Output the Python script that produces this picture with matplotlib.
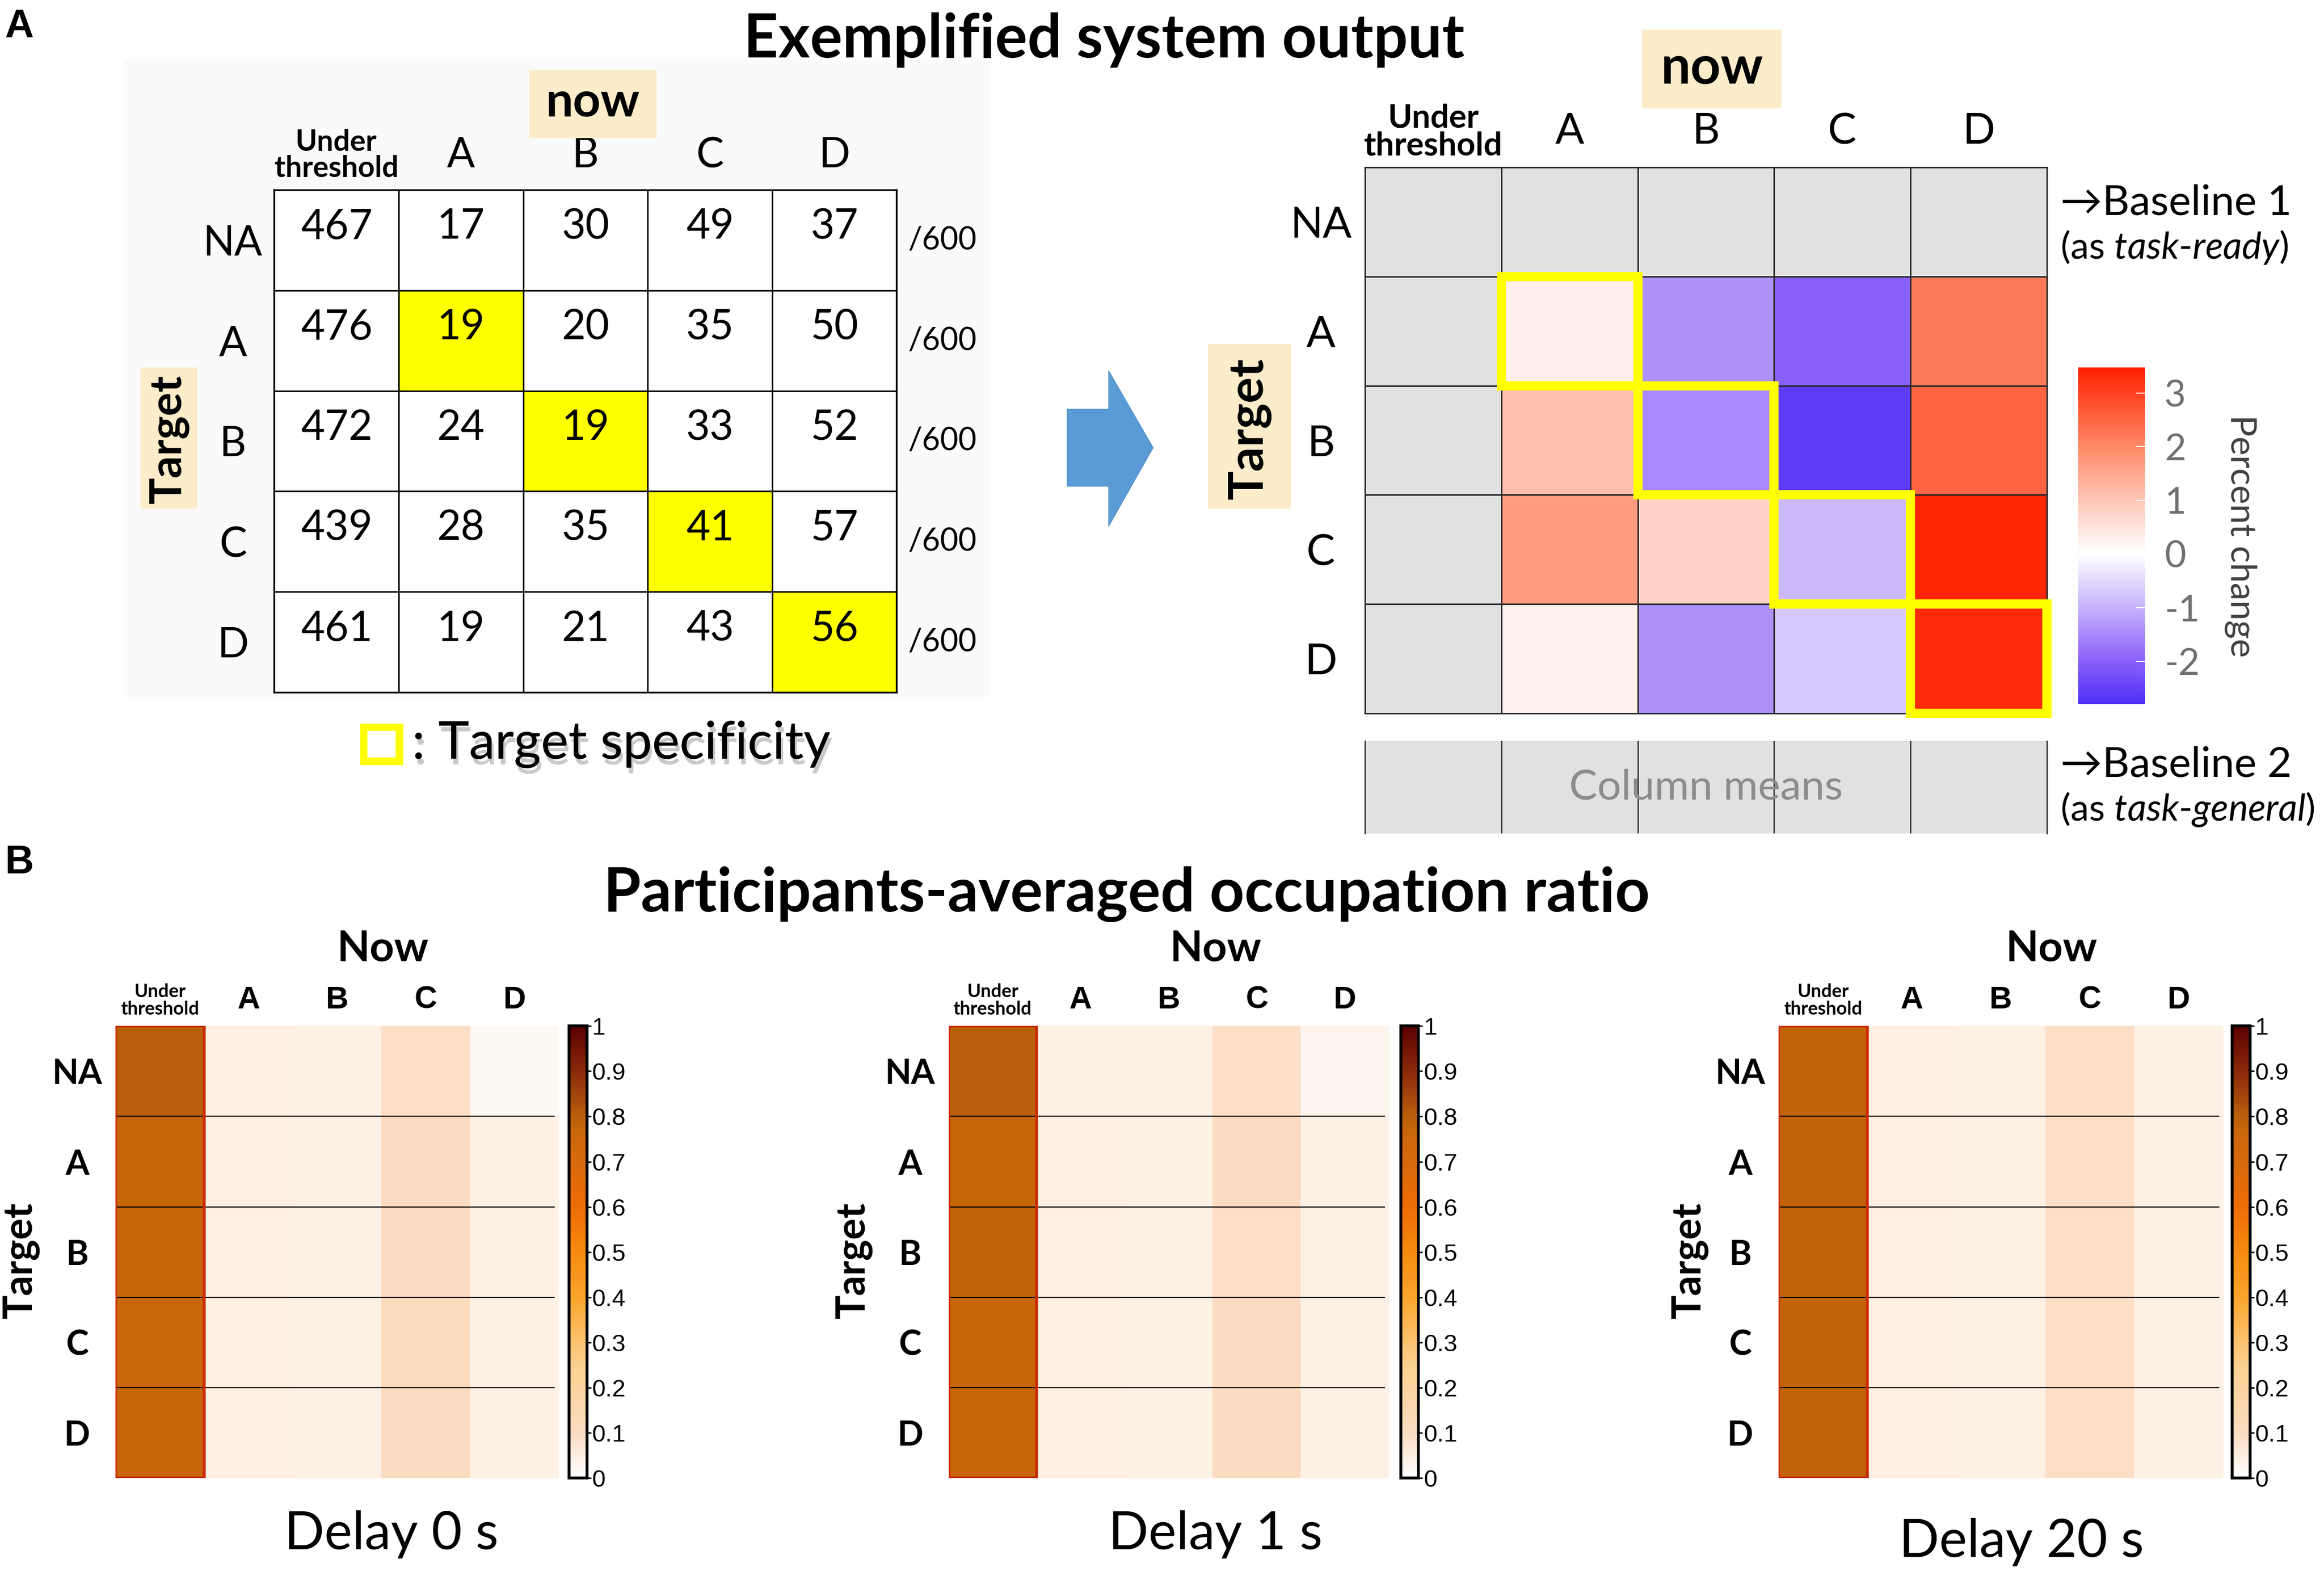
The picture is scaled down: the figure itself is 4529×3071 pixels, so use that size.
import numpy as np
import matplotlib
matplotlib.use('Agg')
import matplotlib.pyplot as plt
from matplotlib.colors import LinearSegmentedColormap, ListedColormap, Normalize
from matplotlib.patches import Rectangle, Polygon
import matplotlib.patheffects as pe

plt.rcParams['font.family'] = ['Lato', 'DejaVu Sans']
plt.rcParams['mathtext.fontset'] = 'custom'
plt.rcParams['mathtext.rm'] = 'Lato'
plt.rcParams['mathtext.it'] = 'Lato:italic'
plt.rcParams['axes.unicode_minus'] = False

# ---------------- data ----------------
col_labels = ['Under\nthreshold', 'A', 'B', 'C', 'D']
row_labels = ['NA', 'A', 'B', 'C', 'D']
trial_total = 600
example_counts = [
    [467, 17, 30, 49, 37],
    [476, 19, 20, 35, 50],
    [472, 24, 19, 33, 52],
    [439, 28, 35, 41, 57],
    [461, 19, 21, 43, 56],
]
nan = np.nan
percent_change = [
    [nan, nan, nan, nan, nan],
    [nan, 0.3, -1.4, -2.0, 2.2],
    [nan, 1.1, -1.5, -2.6, 2.5],
    [nan, 1.7, 0.8, -0.9, 3.4],
    [nan, 0.25, -1.4, -0.7, 3.3],
]
pc_ticks = [-2, -1, 0, 1, 2, 3]
pc_range = (-2.8, 3.47)

delay_titles = ['Delay 0 s', 'Delay 1 s', 'Delay 20 s']
occ_delay0 = [
    [0.80, 0.05, 0.04, 0.09, 0.02],
    [0.77, 0.05, 0.04, 0.10, 0.04],
    [0.77, 0.05, 0.04, 0.10, 0.04],
    [0.76, 0.05, 0.04, 0.11, 0.04],
    [0.77, 0.05, 0.04, 0.10, 0.04],
]
occ_delay1 = [
    [0.80, 0.04, 0.04, 0.09, 0.03],
    [0.77, 0.05, 0.04, 0.10, 0.04],
    [0.78, 0.05, 0.04, 0.09, 0.04],
    [0.77, 0.05, 0.04, 0.10, 0.04],
    [0.77, 0.05, 0.04, 0.10, 0.04],
]
occ_delay20 = [
    [0.78, 0.05, 0.04, 0.09, 0.04],
    [0.78, 0.05, 0.04, 0.09, 0.04],
    [0.78, 0.05, 0.04, 0.09, 0.04],
    [0.78, 0.05, 0.04, 0.09, 0.04],
    [0.78, 0.05, 0.04, 0.09, 0.04],
]
occ_ticks = [0, 0.1, 0.2, 0.3, 0.4, 0.5, 0.6, 0.7, 0.8, 0.9, 1]
occ_tick_labels = ['0', '0.1', '0.2', '0.3', '0.4', '0.5', '0.6', '0.7', '0.8', '0.9', '1']

# ---------------- layout helpers ----------------
W, H = 1568.0, 1063.0
fig = plt.figure(figsize=(45.29, 30.71), dpi=100)


def R(x0, y0, x1, y1):
    return [x0 / W, 1 - y1 / H, (x1 - x0) / W, (y1 - y0) / H]


def F(x, y):
    return (x / W, 1 - y / H)


def ftext(x, y, s, **kw):
    return fig.text(*F(x, y), s, **kw)


def fbox(x0, y0, x1, y1, color, z=0):
    fig.patches.append(Rectangle(F(x0, y1), (x1 - x0) / W, (y1 - y0) / H,
                                 transform=fig.transFigure, facecolor=color,
                                 edgecolor='none', zorder=z))


BEIGE = '#fcecca'

# ---------------- panel A ----------------
ftext(13, 18, 'A', fontsize=56, fontweight='bold', family='Liberation Sans', ha='center', va='center')
ftext(745, 27, 'Exemplified system output', fontsize=85, fontweight='bold', ha='center', va='center')

# light background behind example table
fbox(84, 40, 668, 470, '#fafafa', z=-1)
fbox(357, 47, 443, 93, BEIGE)
ftext(400, 69, 'now', fontsize=68, fontweight='bold', ha='center', va='center')
fbox(95, 248, 133, 343, BEIGE)
ftext(114, 296, 'Target', fontsize=62, fontweight='bold', ha='center', va='center', rotation=90)

ax1 = fig.add_axes(R(185, 128, 605, 467))
counts = np.array(example_counts)
nr, nc = counts.shape
highlight = np.array([[1 if row_labels[i] == col_labels[j] else 0 for j in range(nc)] for i in range(nr)])
ax1.pcolormesh(np.arange(nc + 1), np.arange(nr + 1), highlight,
               cmap=ListedColormap(['white', '#ffff00']), vmin=0, vmax=1,
               edgecolors='black', linewidth=2.0)
ax1.set_xlim(0, nc)
ax1.set_ylim(nr, 0)
for i in range(nr):
    for j in range(nc):
        ax1.text(j + 0.5, i + 0.37, str(counts[i, j]), ha='center', va='center', fontsize=58)
    ax1.text(nc + 0.37, i + 0.5, '/%d' % trial_total, ha='center', va='center', fontsize=44, clip_on=False)
ax1.xaxis.tick_top()
ax1.set_xticks(np.arange(nc) + 0.5)
ax1.set_xticklabels(col_labels)
ax1.set_yticks(np.arange(nr) + 0.5)
ax1.set_yticklabels(row_labels)
ax1.tick_params(length=0, labelsize=58)
ax1.tick_params(axis='x', pad=48)
ax1.tick_params(axis='y', pad=58)
for lbl in ax1.get_xticklabels():
    lbl.set_va('center')
for lbl in ax1.get_yticklabels():
    lbl.set_ha('center')
xl = ax1.get_xticklabels()
xl[0].set_fontsize(41)
xl[0].set_fontweight('bold')
xl[0].set_linespacing(0.95)
for s in ax1.spines.values():
    s.set_linewidth(2.5)

# legend for target specificity
fbox(243, 488, 272, 516, '#ffff00', z=1)
fbox(248, 493, 267, 511, 'white', z=2)
ftext(278, 502, ': Target specificity', fontsize=73, ha='left', va='center',
      path_effects=[pe.withSimplePatchShadow(offset=(3, -8), shadow_rgbFace='#888888', alpha=0.45),
                    pe.Normal()])

# blue arrow
arrow_pts = [F(720, 276), F(748, 276), F(748, 250), F(778, 302), F(748, 355), F(748, 328), F(720, 328)]
fig.patches.append(Polygon(arrow_pts, closed=True, transform=fig.transFigure,
                           facecolor='#5b9bd5', edgecolor='#4f8fca', linewidth=1))

# right heatmap
fbox(1108, 20, 1202, 73, BEIGE)
ftext(1155, 46, 'now', fontsize=74, fontweight='bold', ha='center', va='center')
fbox(815, 232, 871, 343, BEIGE)
ftext(843, 289, 'Target', fontsize=68, fontweight='bold', ha='center', va='center', rotation=90)

pc_anchor_vals = [-2.8, -2.0, -1.0, 0.0, 1.0, 2.0, 3.47]
pc_anchor_cols = ['#5030f5', '#8a60fa', '#c6b2fc', '#ffffff', '#ffc6b6', '#ff8a68', '#ff2000']
pos = [(v - pc_range[0]) / (pc_range[1] - pc_range[0]) for v in pc_anchor_vals]
pc_cmap = LinearSegmentedColormap.from_list('pc', list(zip(pos, pc_anchor_cols)))
pc_cmap.set_bad('#e1e1e1')

ax2 = fig.add_axes(R(921, 113, 1381, 481))
pc = np.ma.masked_invalid(np.array(percent_change, dtype=float))
mesh2 = ax2.pcolormesh(np.arange(nc + 1), np.arange(nr + 1), pc, cmap=pc_cmap,
                       norm=Normalize(*pc_range), edgecolors='#2a2a2a', linewidth=1.8)
ax2.set_xlim(0, nc)
ax2.set_ylim(nr, 0)
ax2.xaxis.tick_top()
ax2.set_xticks(np.arange(nc) + 0.5)
ax2.set_xticklabels(col_labels)
ax2.set_yticks(np.arange(nr) + 0.5)
ax2.set_yticklabels(row_labels)
ax2.tick_params(length=0, labelsize=60)
ax2.tick_params(axis='x', pad=50)
ax2.tick_params(axis='y', pad=62)
for lbl in ax2.get_xticklabels():
    lbl.set_va('center')
for lbl in ax2.get_yticklabels():
    lbl.set_ha('center')
xl = ax2.get_xticklabels()
xl[0].set_fontsize(46)
xl[0].set_fontweight('bold')
xl[0].set_linespacing(0.95)
for s in ax2.spines.values():
    s.set_linewidth(2)
    s.set_color('#2a2a2a')
for k in range(nr):
    for j in range(nc):
        if row_labels[k] == col_labels[j]:
            ax2.add_patch(Rectangle((j, k), 1, 1, fill=False, edgecolor='#ffff00',
                                    linewidth=13, zorder=5, clip_on=False))

cax2 = fig.add_axes(R(1402, 248, 1447, 475))
cb2 = fig.colorbar(mesh2, cax=cax2, ticks=pc_ticks)
cb2.outline.set_visible(False)
cax2.tick_params(length=12, width=1.5, color='white', direction='in', labelsize=52,
                 labelcolor='#707070', pad=28)
cb2.set_label('Percent change', rotation=270, fontsize=50, color='#404040', labelpad=80)

ftext(1390, 137, '\u2192Baseline 1', fontsize=59, ha='left', va='center',
      family=['Lato', 'DejaVu Sans'])
ftext(1390, 167, r'(as $\mathit{task}$-$\mathit{ready}$)', fontsize=52, ha='left', va='center')
ftext(1390, 516, '\u2192Baseline 2', fontsize=59, ha='left', va='center',
      family=['Lato', 'DejaVu Sans'])
ftext(1390, 546, r'(as $\mathit{task}$-$\mathit{general}$)', fontsize=52, ha='left', va='center')

ax3 = fig.add_axes(R(921, 500, 1381, 562))
ax3.set_facecolor('#e1e1e1')
ax3.set_xlim(0, nc)
ax3.set_ylim(0, 1)
for j in range(1, nc):
    ax3.axvline(j, color='#2a2a2a', linewidth=1.8)
ax3.set_xticks([])
ax3.set_yticks([])
for side in ['top', 'bottom']:
    ax3.spines[side].set_visible(False)
for side in ['left', 'right']:
    ax3.spines[side].set_color('#2a2a2a')
    ax3.spines[side].set_linewidth(1.8)
ax3.text(nc / 2, 0.5, 'Column means', ha='center', va='center', fontsize=59, color='#8c8c8c')

# ---------------- panel B ----------------
ftext(13, 582, 'B', fontsize=56, fontweight='bold', family='Liberation Sans', ha='center', va='center')
ftext(760, 603, 'Participants-averaged occupation ratio', fontsize=85, fontweight='bold',
      ha='center', va='center')

occ_anchor = [(0.0, '#ffffff'), (0.05, '#fdeee0'), (0.1, '#fcdcc0'), (0.25, '#fcd090'),
              (0.4, '#f9a52a'), (0.5, '#f78a10'), (0.6, '#ee6c04'), (0.7, '#d86a0c'),
              (0.77, '#c8660a'), (0.8, '#b8600c'), (0.9, '#8a2a0a'), (1.0, '#5c0000')]
occ_cmap = LinearSegmentedColormap.from_list('occ', occ_anchor)

occ_sets = [occ_delay0, occ_delay1, occ_delay20]
hm_x = [(78, 377), (640, 937), (1200, 1500)]
cb_x = [(384, 396), (945, 957), (1506, 1518)]
now_x = [258, 820, 1384]
delay_xy = [(264, 1035), (820, 1035), (1364, 1040)]
target_x = [14, 576, 1140]
y0, y1 = 692, 997

for k in range(3):
    data = np.array(occ_sets[k])
    ax = fig.add_axes(R(hm_x[k][0], y0, hm_x[k][1], y1))
    im = ax.imshow(data, cmap=occ_cmap, vmin=0, vmax=1, aspect='auto', interpolation='nearest')
    for r in range(data.shape[0] - 1):
        ax.axhline(r + 0.5, color='black', linewidth=1.6, xmin=0, xmax=0.99)
    ax.add_patch(Rectangle((-0.5, -0.5), 1, data.shape[0], fill=False,
                           edgecolor='#cc2a00', linewidth=4, zorder=4))
    ax.xaxis.tick_top()
    ax.set_xticks(np.arange(data.shape[1]))
    ax.set_xticklabels(col_labels)
    ax.set_yticks(np.arange(data.shape[0]))
    ax.set_yticklabels(row_labels)
    ax.tick_params(length=0)
    ax.tick_params(axis='x', pad=36, labelsize=44)
    ax.tick_params(axis='y', pad=54, labelsize=48)
    for lbl in ax.get_xticklabels():
        lbl.set_va('center')
        lbl.set_fontweight('bold')
        lbl.set_family('Liberation Sans')
    xl = ax.get_xticklabels()
    xl[0].set_fontsize(26)
    xl[0].set_family('Lato')
    xl[0].set_linespacing(1.05)
    for lbl in ax.get_yticklabels():
        lbl.set_ha('center')
        lbl.set_fontweight('bold')
    for s in ax.spines.values():
        s.set_visible(False)

    cax = fig.add_axes(R(cb_x[k][0], y0, cb_x[k][1], y1))
    cb = fig.colorbar(im, cax=cax, ticks=occ_ticks)
    cb.set_ticklabels(occ_tick_labels)
    cb.outline.set_linewidth(4)
    cax.tick_params(length=6, width=2, labelsize=34, pad=1)
    for lbl in cax.get_yticklabels():
        lbl.set_family('Liberation Sans')

    ftext(now_x[k], 640, 'Now', fontsize=60, fontweight='bold', ha='center', va='center')
    ftext(delay_xy[k][0], delay_xy[k][1], delay_titles[k], fontsize=74, ha='center', va='center')
    ftext(target_x[k], 850, 'Target', fontsize=56, fontweight='bold', ha='center', va='center',
          rotation=90)

fig.savefig('out.png', dpi=100)
